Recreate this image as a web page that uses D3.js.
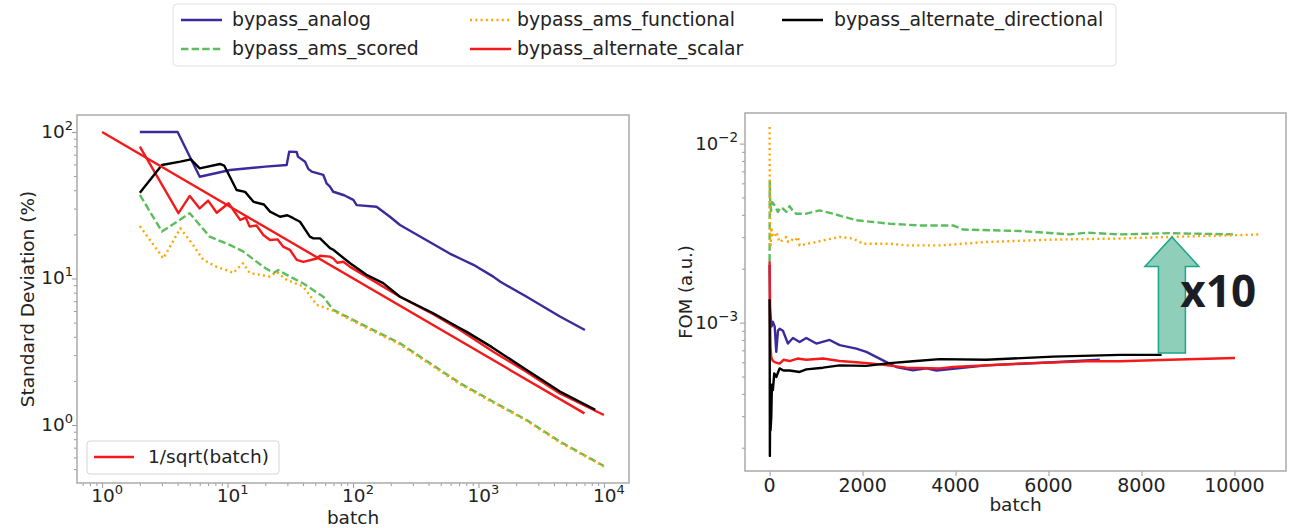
<!DOCTYPE html>
<html>
<head>
<meta charset="utf-8">
<script src="https://cdn.jsdelivr.net/npm/d3@7"></script>
<style>
  body { margin: 0; background: #fff; }
  svg { display: block; font-family: "DejaVu Sans", sans-serif; }
</style>
</head>
<body>
<div id="chart"></div>
<script>
// series names and styles (legend order, column-wise)
const seriesNames = ["bypass_analog", "bypass_ams_scored", "bypass_ams_functional", "bypass_alternate_scalar", "bypass_alternate_directional"];
const seriesColors = ["#3c2a9c", "#5cbd5c", "#ffa500", "#f21a1a", "#000000"];
const seriesDash = [null, "7.4,3.2", "2,3.3", null, null];

// left panel: standard deviation (%) vs batch, log-log
const sdAnalog = [[2,100],[4,100],[6,49.5],[10.5,55],[20,58],[29.6,59.5],[31,73.4],[35.6,73],[36.4,67.9],[41.5,62.7],[44,56],[46.9,53.6],[58,50.9],[61.6,44.6],[65.5,42.4],[69.6,39.1],[85,37],[100.6,34.4],[107,31.7],[154,30.9],[197,26.4],[237,23.2],[362,18.8],[590,14.8],[713,13.7],[912,12.4],[1312,10.3],[1495,9.5],[2423,7.5],[4460,5.5],[7060,4.45]];
const sdScored = [[2,37.2],[3,20.9],[5,27.9],[7.2,19.3],[10.5,16.9],[13.3,15.3],[19.3,12.0],[23.2,10.9],[25.4,11.4],[31.4,10.3],[40.2,9.25],[58,7.5],[69.6,6.1],[128,4.69],[237,3.61],[713,1.93],[1312,1.44],[2423,1.08],[4460,0.77],[10000,0.525]];
const sdFunctional = [[2,22.8],[3.08,13.7],[4.2,22.0],[5.2,17.4],[6.4,13.4],[8.2,12.0],[9.8,11.4],[11.1,10.9],[13.3,12.7],[15,10.9],[21.8,10.3],[24.6,11.1],[29.6,9.8],[40.2,8.8],[51.4,6.6],[70,6.0],[128,4.6],[237,3.55],[713,1.9],[1312,1.42],[2423,1.07],[4460,0.76],[10000,0.52]];
const sdScalar = [[2,79.4],[4.06,27.9],[5,36.6],[6,30.1],[7,34],[8.2,28.1],[10.2,32.6],[12.6,25.1],[14,26],[15,22.6],[17,23],[19.3,19.8],[21.8,18.3],[25,18.5],[27.8,16.5],[31.4,15.7],[35.6,13.4],[40.2,13.0],[51.4,13.7],[54.6,14.3],[65.5,14.1],[69.6,13.7],[75,12.8],[83.8,13.0],[94.8,12.0],[128,10.3],[237,7.5],[436,5.7],[713,4.45],[1312,3.16],[2423,2.3],[4460,1.64],[10000,1.17]];
const sdDirectional = [[2,38.5],[3,59.5],[4.2,62.7],[5.1,65],[6,56.5],[8.7,60.5],[9.4,59],[11.8,40.2],[13.8,39],[16.1,33.4],[19.5,32],[21.8,28.6],[26.2,26.4],[30,27],[33.4,25.8],[37.8,24.4],[45.3,19.3],[48.3,18.8],[54.6,18.8],[65.6,16.1],[69.6,15.7],[94.8,12.7],[128,10.6],[174,9.3],[237,7.5],[436,5.79],[713,4.57],[806,4.32],[1280,3.4],[2423,2.37],[4460,1.69],[8530,1.27]];
const sdRef = [[1,100],[7000,1.2]];

// right panel: FOM vs batch, y log
const fomAnalog = [[0,0.0021],[10,0.0012],[40,0.00095],[71,0.00101],[110,0.00095],[144,0.000686],[180,0.0009],[215,0.000925],[287,0.0009],[394,0.000764],[502,0.00082],[646,0.00078],[789,0.00082],[1005,0.000764],[1292,0.0008],[1507,0.000748],[1866,0.000716],[2081,0.000686],[2440,0.000615],[2727,0.000565],[3085,0.000541],[3373,0.000555],[3589,0.00054],[4665,0.000577],[6100,0.0006],[7104,0.00062]];
const fomScored = [[0,0.0022],[4,0.0062],[10,0.0050],[30,0.0042],[60,0.0047],[108,0.00452],[180,0.00415],[230,0.0044],[287,0.00433],[360,0.00415],[430,0.00448],[500,0.0042],[574,0.00406],[789,0.00406],[1076,0.00424],[1363,0.00406],[1866,0.00373],[2583,0.00357],[3229,0.00349],[3947,0.00349],[4162,0.00331],[5382,0.00325],[6459,0.00311],[6818,0.00318],[7535,0.00311],[8600,0.00316],[9968,0.00311]];
const fomFunctional = [[0,0.0124],[4,0.0062],[8,0.0038],[14,0.0029],[24,0.0027],[36,0.0034],[60,0.0031],[108,0.0030],[150,0.0032],[215,0.00282],[290,0.0029],[360,0.00301],[400,0.00282],[480,0.0029],[540,0.00285],[610,0.00301],[646,0.0027],[800,0.00275],[1005,0.00282],[1200,0.0029],[1507,0.00301],[1794,0.00295],[2010,0.00276],[2583,0.00276],[2943,0.0027],[3660,0.0027],[4665,0.00282],[6100,0.00291],[7535,0.00295],[8600,0.00301],[10585,0.00311]];
const fomScalar = [[0,0.0022],[8,0.0011],[20,0.00073],[36,0.00064],[71,0.00061],[120,0.0006],[215,0.00059],[300,0.00062],[430,0.00061],[600,0.00063],[789,0.00062],[1148,0.00063],[1507,0.00061],[1866,0.0006],[2224,0.00059],[2943,0.00056],[3660,0.000555],[3947,0.000565],[5382,0.00059],[6818,0.000608],[7535,0.000608],[8600,0.00062],[10011,0.000634]];
const fomDirectional = [[0,0.00135],[3,0.0006],[6,0.00018],[12,0.00035],[20,0.00025],[36,0.000297],[50,0.00045],[71,0.00042],[100,0.00052],[144,0.000497],[215,0.000555],[300,0.00054],[430,0.00054],[646,0.00053],[789,0.000548],[1148,0.00056],[1507,0.000577],[2081,0.000573],[2583,0.000594],[3085,0.000608],[3660,0.000625],[4665,0.00062],[6100,0.000646],[7535,0.00066],[8433,0.00066]];

// tick labels
const leftXTicks = [1, 10, 100, 1000, 10000];
const leftYTicks = [1, 10, 100];
const rightXTicks = [0, 2000, 4000, 6000, 8000, 10000];
const rightYTicks = [0.001, 0.01];

// "x10" arrow annotation, in right-panel data units
const arrowX = 8655, arrowHead = 580, arrowShaft = 290;
const arrowTip = 0.00301, arrowNeck = 0.00206, arrowBase = 0.000676;

const W = 1307, H = 528;
const svg = d3.select("#chart").append("svg")
    .attr("width", W).attr("height", H)
    .attr("viewBox", [0, 0, W, H]);
svg.append("rect").attr("width", W).attr("height", H).attr("fill", "#fff");

const left = {x0: 77, x1: 629, y0: 115, y1: 483};
const right = {x0: 745, x1: 1286, y0: 113, y1: 471};

const lx = d3.scaleLog().domain([Math.pow(10, -0.2), Math.pow(10, 4.2)]).range([left.x0, left.x1]);
const ly = d3.scaleLog().domain([Math.pow(10, -0.396), Math.pow(10, 2.116)]).range([left.y1, left.y0]);
const rx = d3.scaleLinear().domain([-529, 11109]).range([right.x0, right.x1]);
const ry = d3.scaleLog().domain([Math.pow(10, -3.829), Math.pow(10, -1.829)]).range([right.y1, right.y0]);

const sup = (sel, exp, size) => {
    sel.append("tspan").text("10");
    sel.append("tspan").attr("dy", -8).attr("font-size", size).text(exp);
};
const expOf = v => String(Math.round(Math.log10(v))).replace("-", "\u2212");

function minorTicks(scale) {
    return scale.ticks().filter(v => Math.abs(Math.log10(v) - Math.round(Math.log10(v))) > 1e-6);
}

function drawFrame(g, b) {
    g.append("rect")
        .attr("x", b.x0).attr("y", b.y0)
        .attr("width", b.x1 - b.x0).attr("height", b.y1 - b.y0)
        .attr("fill", "none").attr("stroke", "#aaa").attr("stroke-width", 1.5);
}

function drawLines(g, sets, x, y, b) {
    const clipId = "clip" + b.x0;
    g.append("clipPath").attr("id", clipId).append("rect")
        .attr("x", b.x0).attr("y", b.y0).attr("width", b.x1 - b.x0).attr("height", b.y1 - b.y0);
    const line = d3.line().x(d => x(d[0])).y(d => y(d[1]));
    sets.forEach((data, i) => {
        g.append("path")
            .attr("clip-path", `url(#${clipId})`)
            .attr("d", line(data))
            .attr("fill", "none")
            .attr("stroke", seriesColors[i])
            .attr("stroke-width", 2.4)
            .attr("stroke-linejoin", "round")
            .attr("stroke-dasharray", seriesDash[i]);
    });
}

// ---------- left panel ----------
const gl = svg.append("g");

gl.append("g").attr("transform", `translate(0,${left.y1})`)
    .call(d3.axisBottom(lx).tickValues(minorTicks(lx).filter(v => v > lx.domain()[0] && v < lx.domain()[1])).tickSize(3).tickFormat(""))
    .call(a => a.select(".domain").remove())
    .call(a => a.selectAll("line").attr("stroke", "#999"));
gl.append("g").attr("transform", `translate(0,${left.y1})`)
    .call(d3.axisBottom(lx).tickValues(leftXTicks).tickSize(5).tickFormat(""))
    .call(a => a.select(".domain").remove())
    .call(a => a.selectAll("line").attr("stroke", "#999"));
gl.append("g").attr("transform", `translate(${left.x0},0)`)
    .call(d3.axisLeft(ly).tickValues(minorTicks(ly).filter(v => v > ly.domain()[0] && v < ly.domain()[1])).tickSize(3).tickFormat(""))
    .call(a => a.select(".domain").remove())
    .call(a => a.selectAll("line").attr("stroke", "#999"));
gl.append("g").attr("transform", `translate(${left.x0},0)`)
    .call(d3.axisLeft(ly).tickValues(leftYTicks).tickSize(5).tickFormat(""))
    .call(a => a.select(".domain").remove())
    .call(a => a.selectAll("line").attr("stroke", "#999"));

leftXTicks.forEach(v => {
    gl.append("text").attr("x", lx(v) + 5).attr("y", left.y1 + 19)
        .attr("text-anchor", "middle").attr("font-size", 18.5).attr("fill", "#222")
        .call(t => sup(t, expOf(v), 13));
});
leftYTicks.forEach(v => {
    gl.append("text").attr("x", left.x0 - 4).attr("y", ly(v) + 6)
        .attr("text-anchor", "end").attr("font-size", 18.5).attr("fill", "#222")
        .call(t => sup(t, expOf(v), 13));
});

drawLines(gl, [sdAnalog, sdScored, sdFunctional, sdScalar, sdDirectional], lx, ly, left);
gl.append("path")
    .attr("d", d3.line().x(d => lx(d[0])).y(d => ly(d[1]))(sdRef))
    .attr("fill", "none").attr("stroke", seriesColors[3]).attr("stroke-width", 2.4);
drawFrame(gl, left);

gl.append("text").attr("x", (left.x0 + left.x1) / 2).attr("y", 524)
    .attr("text-anchor", "middle").attr("font-size", 18.5).attr("fill", "#222").text("batch");
gl.append("text").attr("transform", `translate(34,${(left.y0 + left.y1) / 2}) rotate(-90)`)
    .attr("text-anchor", "middle").attr("font-size", 18.5).attr("fill", "#222").text("Standard Deviation (%)");

// inner legend
const lg = gl.append("g");
lg.append("rect").attr("x", 87).attr("y", 441).attr("width", 192).attr("height", 33).attr("rx", 3)
    .attr("fill", "#fff").attr("stroke", "#d5d5d5");
lg.append("line").attr("x1", 94).attr("x2", 134).attr("y1", 457).attr("y2", 457)
    .attr("stroke", seriesColors[3]).attr("stroke-width", 2.4);
lg.append("text").attr("x", 148).attr("y", 463).attr("font-size", 18.5).attr("fill", "#222").text("1/sqrt(batch)");

// ---------- right panel ----------
const gr = svg.append("g");

gr.append("g").attr("transform", `translate(0,${right.y1})`)
    .call(d3.axisBottom(rx).tickValues(rightXTicks).tickSize(5).tickFormat(""))
    .call(a => a.select(".domain").remove())
    .call(a => a.selectAll("line").attr("stroke", "#999"));
gr.append("g").attr("transform", `translate(${right.x0},0)`)
    .call(d3.axisLeft(ry).tickValues(minorTicks(ry).filter(v => v > ry.domain()[0] && v < ry.domain()[1])).tickSize(3).tickFormat(""))
    .call(a => a.select(".domain").remove())
    .call(a => a.selectAll("line").attr("stroke", "#999"));
gr.append("g").attr("transform", `translate(${right.x0},0)`)
    .call(d3.axisLeft(ry).tickValues(rightYTicks).tickSize(5).tickFormat(""))
    .call(a => a.select(".domain").remove())
    .call(a => a.selectAll("line").attr("stroke", "#999"));

rightXTicks.forEach(v => {
    gr.append("text").attr("x", rx(v)).attr("y", right.y1 + 21)
        .attr("text-anchor", "middle").attr("font-size", 19).attr("fill", "#222").text(v);
});
rightYTicks.forEach(v => {
    gr.append("text").attr("x", right.x0 - 7).attr("y", ry(v) + 6)
        .attr("text-anchor", "end").attr("font-size", 18).attr("fill", "#222")
        .call(t => sup(t, expOf(v), 13.5));
});

drawLines(gr, [fomAnalog, fomScored, fomFunctional, fomScalar, fomDirectional], rx, ry, right);
drawFrame(gr, right);

gr.append("text").attr("x", (right.x0 + right.x1) / 2).attr("y", 511)
    .attr("text-anchor", "middle").attr("font-size", 18.5).attr("fill", "#222").text("batch");
gr.append("text").attr("transform", `translate(692,${(right.y0 + right.y1) / 2}) rotate(-90)`)
    .attr("text-anchor", "middle").attr("font-size", 18).attr("fill", "#222").text("FOM (a.u.)");

// x10 arrow
const arrowPts = [
    [arrowX, arrowTip],
    [arrowX + arrowHead, arrowNeck],
    [arrowX + arrowShaft, arrowNeck],
    [arrowX + arrowShaft, arrowBase],
    [arrowX - arrowShaft, arrowBase],
    [arrowX - arrowShaft, arrowNeck],
    [arrowX - arrowHead, arrowNeck]
];
gr.append("polygon")
    .attr("points", arrowPts.map(p => [rx(p[0]), ry(p[1])].join(",")).join(" "))
    .attr("fill", "#8fceb9").attr("stroke", "#1aa58a").attr("stroke-width", 1.5);
gr.append("text").attr("x", rx(arrowX + 180)).attr("y", ry(0.00123))
    .attr("font-family", "'Open Sans', sans-serif").attr("font-weight", 700)
    .attr("font-size", 44).attr("fill", "#1c1c24").text("x10");

// ---------- top legend ----------
const tg = svg.append("g");
tg.append("rect").attr("x", 173).attr("y", 4).attr("width", 943).attr("height", 62).attr("rx", 4)
    .attr("fill", "#fff").attr("stroke", "#e2e2e2");
const legendCols = [[181, 232], [470, 517], [782, 834]];
const legendRows = [20, 49];
seriesNames.forEach((name, i) => {
    const c = legendCols[Math.floor(i / 2)], r = legendRows[i % 2];
    tg.append("line").attr("x1", c[0]).attr("x2", c[0] + 41).attr("y1", r).attr("y2", r)
        .attr("stroke", seriesColors[i]).attr("stroke-width", 2.6)
        .attr("stroke-dasharray", seriesDash[i]);
    tg.append("text").attr("x", c[1]).attr("y", r + 6).attr("font-size", 18.8).attr("fill", "#222").text(name);
});
</script>
</body>
</html>
